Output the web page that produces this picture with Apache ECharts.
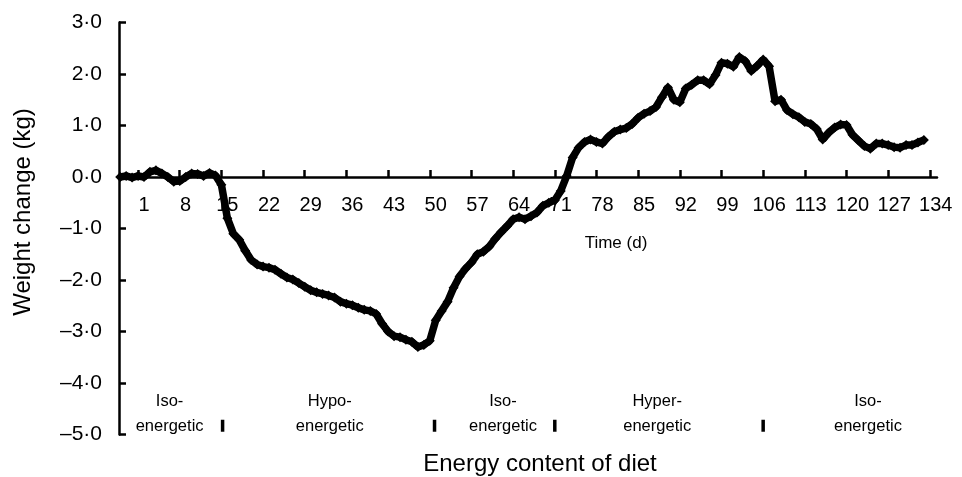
<!DOCTYPE html>
<html>
<head>
<meta charset="utf-8">
<script src="https://cdn.jsdelivr.net/npm/echarts@6/dist/echarts.min.js"></script>
<style>
  html, body { margin: 0; padding: 0; background: #fff; }
  #chart { width: 962px; height: 477px; }
</style>
</head>
<body>
<div id="chart"></div>
<script>
// weight change (kg), one value per day starting at day -3
const startDay = -3
const weightChange = [
  0.00, 0.02, -0.01, 0.02, 0.00, 0.10, 0.13, 0.07, 0.00, -0.09,
  -0.08, 0.00, 0.07, 0.06, 0.02, 0.08, 0.03, -0.15, -0.80, -1.10,
  -1.22, -1.43, -1.61, -1.70, -1.74, -1.76, -1.80, -1.88, -1.95, -1.99,
  -2.06, -2.13, -2.20, -2.24, -2.27, -2.30, -2.34, -2.42, -2.46, -2.49,
  -2.54, -2.58, -2.60, -2.66, -2.85, -3.00, -3.09, -3.11, -3.16, -3.20,
  -3.30, -3.26, -3.18, -2.78, -2.60, -2.42, -2.15, -1.93, -1.78, -1.66,
  -1.50, -1.45, -1.35, -1.20, -1.07, -0.95, -0.82, -0.78, -0.82, -0.76,
  -0.69, -0.56, -0.50, -0.45, -0.27, 0.02, 0.38, 0.57, 0.68, 0.73,
  0.68, 0.65, 0.78, 0.88, 0.92, 0.95, 1.03, 1.15, 1.23, 1.28,
  1.36, 1.55, 1.74, 1.50, 1.45, 1.72, 1.79, 1.88, 1.88, 1.80,
  1.98, 2.22, 2.20, 2.14, 2.33, 2.25, 2.06, 2.16, 2.28, 2.15,
  1.47, 1.50, 1.30, 1.22, 1.16, 1.07, 1.03, 0.93, 0.73, 0.86,
  0.96, 1.02, 1.01, 0.82, 0.71, 0.60, 0.55, 0.65, 0.65, 0.62,
  0.58, 0.57, 0.62, 0.62, 0.67, 0.72
]

const xLabelDays = [1, 8, 15, 22, 29, 36, 43, 50, 57, 64, 71, 78, 85, 92, 99, 106, 113, 120, 127, 134]
const xTickDays = [0, 7, 14, 21, 28, 35, 42, 49, 56, 63, 70, 77, 84, 91, 98, 105, 112, 119, 126, 133]

// diet phases
const phaseNames = ['Iso-\nenergetic', 'Hypo-\nenergetic', 'Iso-\nenergetic', 'Hyper-\nenergetic', 'Iso-\nenergetic']
const phaseCentres = [5.3, 32.2, 61.3, 87.2, 122.6]
const phaseBounds = [14.2, 49.8, 70.0, 105.0]

const font = '"Liberation Sans", Arial, sans-serif'

const fmtY = v => (v < 0 ? '–' : '') + Math.abs(v).toFixed(1).replace('.', '·')

const gridTop = 22.5
const gridBottom = 42.5
const plotH = 477 - gridTop - gridBottom
// the x axis sits on y = 0 (3 of 8 units down from the top)
const xOffset = -(plotH * 5 / 8)

const chart = echarts.init(document.getElementById('chart'))
chart.setOption({
  animation: false,
  backgroundColor: '#fff',
  grid: {
    left: 119,
    right: 25,
    top: gridTop,
    bottom: gridBottom,
    outerBoundsMode: 'none'
  },
  xAxis: {
    type: 'value',
    min: -3.2,
    max: 134.2,
    offset: xOffset,
    axisLine: { onZero: false, lineStyle: { color: '#000', width: 2.5 } },
    axisTick: { inside: true, length: 7, customValues: xTickDays, lineStyle: { color: '#000', width: 2.5 } },
    axisLabel: {
      customValues: xLabelDays,
      margin: 18,
      color: '#000',
      fontSize: 20,
      fontFamily: font
    },
    splitLine: { show: false }
  },
  yAxis: {
    type: 'value',
    min: -5,
    max: 3,
    interval: 1,
    axisLine: { show: true, onZero: false, lineStyle: { color: '#000', width: 2.5 } },
    axisTick: { show: true, inside: true, length: 7, lineStyle: { color: '#000', width: 2.5 } },
    axisLabel: {
      formatter: fmtY,
      margin: 17,
      color: '#000',
      fontSize: 21,
      fontFamily: font
    },
    splitLine: { show: false }
  },
  graphic: [
    {
      type: 'text',
      x: 23,
      y: 212,
      rotation: Math.PI / 2,
      style: {
        text: 'Weight change (kg)',
        font: '24px ' + font,
        fill: '#000',
        align: 'center',
        verticalAlign: 'middle'
      }
    },
    {
      type: 'text',
      x: 616,
      y: 243,
      style: {
        text: 'Time (d)',
        font: '17px ' + font,
        fill: '#000',
        align: 'center',
        verticalAlign: 'middle'
      }
    },
    {
      type: 'text',
      x: 540,
      y: 464,
      style: {
        text: 'Energy content of diet',
        font: '24px ' + font,
        fill: '#000',
        align: 'center',
        verticalAlign: 'middle'
      }
    }
  ],
  series: [
    {
      type: 'line',
      data: weightChange.map((v, i) => [startDay + i, v]),
      symbol: 'diamond',
      symbolSize: 10,
      showAllSymbol: true,
      itemStyle: { color: '#000' },
      lineStyle: { color: '#000', width: 7.5 },
      z: 3
    },
    {
      type: 'scatter',
      data: phaseBounds.map(d => [d, -4.83]),
      symbol: 'rect',
      symbolSize: [3.5, 12],
      itemStyle: { color: '#000', opacity: 1 },
      silent: true
    },
    {
      type: 'scatter',
      data: phaseNames.map((n, i) => ({ value: [phaseCentres[i], -4.61], name: n })),
      symbolSize: 0,
      itemStyle: { color: '#000', opacity: 1 },
      silent: true,
      label: {
        show: true,
        position: 'inside',
        formatter: p => p.name,
        color: '#000',
        opacity: 1,
        textBorderWidth: 0,
        fontSize: 16.5,
        lineHeight: 25,
        fontFamily: font,
        align: 'center'
      }
    }
  ]
})
</script>
</body>
</html>
